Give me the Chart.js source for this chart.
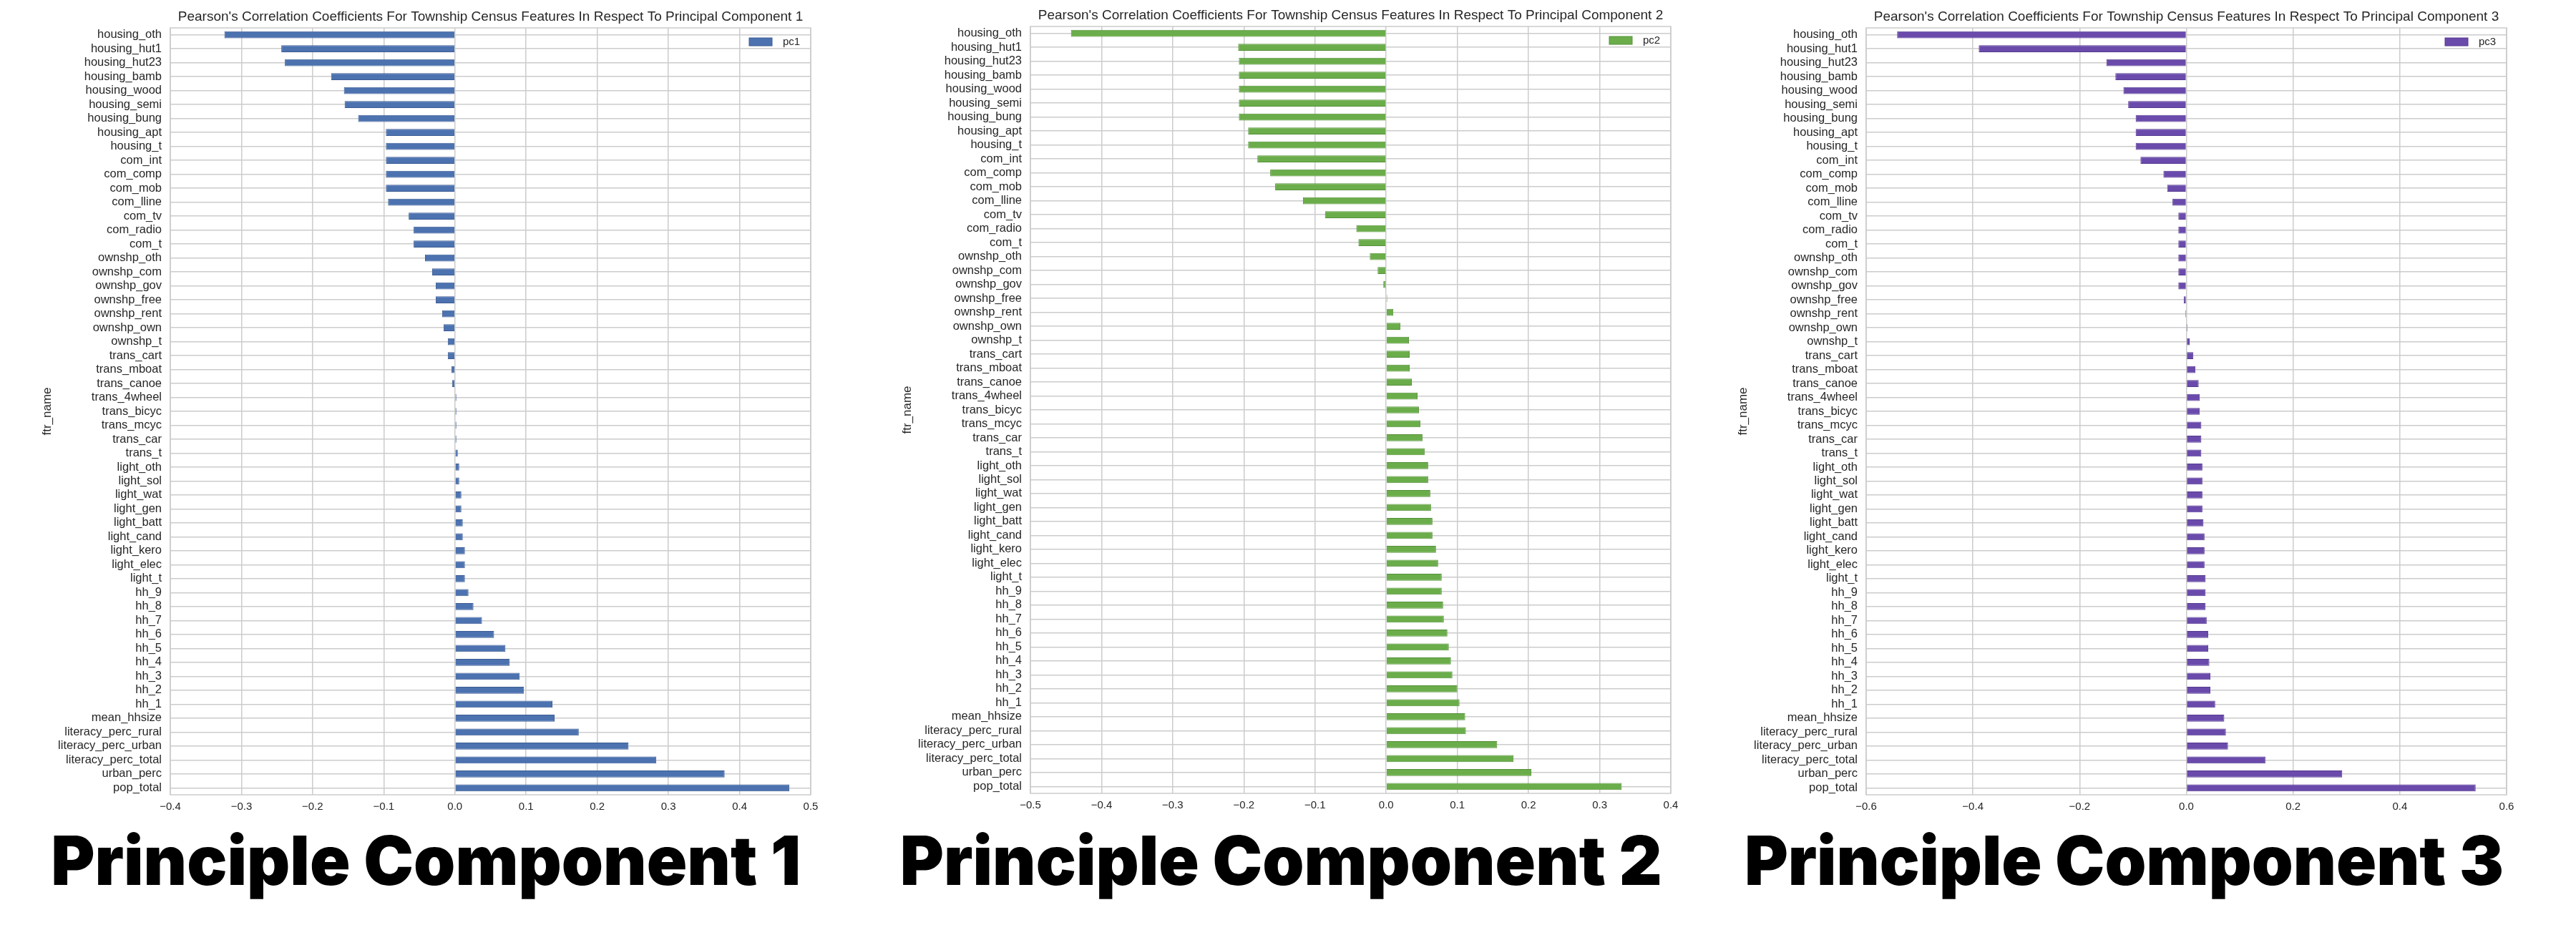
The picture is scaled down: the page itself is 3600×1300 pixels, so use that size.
<!DOCTYPE html>
<html>
<head>
<meta charset="utf-8">
<script src="https://cdn.jsdelivr.net/npm/chart.js@4.4.1/dist/chart.umd.min.js"></script>
<style>
body{margin:0;background:#fff;width:3600px;height:1300px;position:relative;overflow:hidden}
canvas{position:absolute}
.big{position:absolute;top:1155px;width:1200px;text-align:center;white-space:nowrap;
  font-family:Inter,Lato,sans-serif;font-weight:900;font-size:95px;line-height:95px;color:#000}
.big span{display:inline-block;transform-origin:50% 50%}
</style>
</head>
<body>
<canvas id="c1" width="1160" height="1137" style="left:0;top:0"></canvas>
<canvas id="c2" width="1160" height="1137" style="left:1202px;top:-2px"></canvas>
<canvas id="c3" width="1160" height="1137" style="left:2370px;top:0"></canvas>
<div class="big" style="left:-5px" data-w="1048"><span>Principle Component 1</span></div>
<div class="big" style="left:1190px" data-w="1065"><span>Principle Component 2</span></div>
<div class="big" style="left:2368px" data-w="1061"><span>Principle Component 3</span></div>
<script>
const features = ['housing_oth','housing_hut1','housing_hut23','housing_bamb','housing_wood','housing_semi','housing_bung','housing_apt','housing_t',
  'com_int','com_comp','com_mob','com_lline','com_tv','com_radio','com_t',
  'ownshp_oth','ownshp_com','ownshp_gov','ownshp_free','ownshp_rent','ownshp_own','ownshp_t',
  'trans_cart','trans_mboat','trans_canoe','trans_4wheel','trans_bicyc','trans_mcyc','trans_car','trans_t',
  'light_oth','light_sol','light_wat','light_gen','light_batt','light_cand','light_kero','light_elec','light_t',
  'hh_9','hh_8','hh_7','hh_6','hh_5','hh_4','hh_3','hh_2','hh_1',
  'mean_hhsize','literacy_perc_rural','literacy_perc_urban','literacy_perc_total','urban_perc','pop_total'];

const pc1 = [-0.324,-0.244,-0.239,-0.174,-0.156,-0.155,-0.136,-0.097,-0.097,
  -0.097,-0.097,-0.097,-0.094,-0.065,-0.058,-0.058,
  -0.042,-0.032,-0.027,-0.027,-0.018,-0.016,-0.010,
  -0.010,-0.005,-0.004,0.002,0.002,0.002,0.002,0.004,
  0.006,0.006,0.009,0.009,0.011,0.011,0.014,0.014,0.014,
  0.019,0.026,0.038,0.055,0.071,0.077,0.091,0.097,0.137,
  0.140,0.174,0.244,0.283,0.379,0.470];

const pc2 = [-0.443,-0.208,-0.207,-0.207,-0.207,-0.207,-0.207,-0.194,-0.194,
  -0.181,-0.163,-0.156,-0.117,-0.086,-0.042,-0.039,
  -0.023,-0.012,-0.004,0.0015,0.010,0.020,0.032,
  0.033,0.033,0.036,0.044,0.046,0.048,0.051,0.054,
  0.059,0.059,0.062,0.063,0.065,0.065,0.070,0.073,0.078,
  0.078,0.080,0.081,0.086,0.088,0.091,0.093,0.100,0.103,
  0.111,0.112,0.156,0.179,0.204,0.331];

const pc3 = [-0.542,-0.389,-0.150,-0.133,-0.118,-0.109,-0.095,-0.095,-0.095,
  -0.086,-0.043,-0.036,-0.026,-0.015,-0.015,-0.015,
  -0.015,-0.015,-0.015,-0.005,-0.002,0.002,0.006,
  0.013,0.017,0.023,0.025,0.025,0.028,0.028,0.028,
  0.030,0.030,0.030,0.030,0.032,0.034,0.034,0.034,0.036,
  0.036,0.036,0.038,0.041,0.041,0.043,0.045,0.045,0.054,
  0.071,0.074,0.078,0.148,0.292,0.542];

const titleBase = "Pearson's Correlation Coefficients For Township Census Features In Respect To Principal Component ";
const FONT = '"Liberation Sans", Arial, sans-serif';
const TXT = '#262626', GRID = '#cccccc';

// frame round the axes + legend drawn inside the plot, like matplotlib
const framePlugin = {
  id: 'frame',
  beforeDatasetsDraw(chart) {
    const a = chart.chartArea, c = chart.ctx;
    c.save();
    c.strokeStyle = GRID; c.lineWidth = 1.5;
    c.strokeRect(a.left, a.top, a.right - a.left, a.bottom - a.top);
    c.restore();
  },
  afterDraw(chart) {
    const a = chart.chartArea, c = chart.ctx, ds = chart.data.datasets[0];
    c.save();
    c.fillStyle = ds.backgroundColor; c.strokeStyle = ds.borderColor; c.lineWidth = 1;
    c.fillRect(a.right - 86, a.top + 14, 32, 11);
    c.strokeRect(a.right - 86, a.top + 14, 32, 11);
    c.fillStyle = TXT; c.font = '15px ' + FONT; c.textBaseline = 'middle';
    c.fillText(ds.label, a.right - 39, a.top + 19.5);
    c.restore();
  }
};

function fmt(v) {
  const r = Math.round(v * 10) / 10;
  return (r < 0 ? '\u2212' : '') + Math.abs(r).toFixed(1);
}

function makeChart(id, vals, name, fill, edge, n, min, max, step) {
  new Chart(document.getElementById(id), {
    type: 'bar',
    data: { labels: features, datasets: [{ label: name, data: vals, backgroundColor: fill, borderColor: edge,
      borderWidth: 1, barPercentage: 0.5, categoryPercentage: 1.0 }] },
    options: {
      indexAxis: 'y', responsive: false, animation: false,
      layout: { padding: { left: 0, right: 27, top: 0, bottom: 0 } },
      plugins: {
        legend: { display: false }, tooltip: { enabled: false },
        title: { display: true, text: titleBase + n, fullSize: false, color: TXT,
          font: { family: FONT, size: 19, weight: 'normal' }, padding: { top: 12.6, bottom: 3.6 } }
      },
      scales: {
        x: { type: 'linear', min: min, max: max,
          ticks: { stepSize: step, padding: 8, color: TXT, font: { family: FONT, size: 15 }, callback: fmt },
          grid: { color: GRID, lineWidth: 1.5, drawTicks: false }, border: { display: false },
          afterFit(s) { s.height = 26; } },
        y: { type: 'category',
          ticks: { autoSkip: false, padding: 12, color: TXT, font: { family: FONT, size: 16.5 } },
          grid: { offset: false, color: GRID, lineWidth: 1.5, drawTicks: false }, border: { display: false },
          title: { display: true, text: 'ftr_name', color: TXT, font: { family: FONT, size: 17 }, padding: { top: 56, bottom: 0 } },
          afterFit(s) { s.width = 238; } }
      }
    },
    plugins: [framePlugin]
  });
}

makeChart('c1', pc1, 'pc1', '#4c72b0', '#3d5d94', 1, -0.4, 0.5, 0.1);
makeChart('c2', pc2, 'pc2', '#6aad4a', '#57913b', 2, -0.5, 0.4, 0.1);
makeChart('c3', pc3, 'pc3', '#6a4bac', '#563b90', 3, -0.6, 0.6, 0.2);

// squeeze the big captions to the widths they have in the picture
document.querySelectorAll('.big').forEach(d => {
  const s = d.firstElementChild;
  s.style.transform = 'scaleX(' + (Number(d.dataset.w) / s.getBoundingClientRect().width) + ')';
});
</script>
</body>
</html>
